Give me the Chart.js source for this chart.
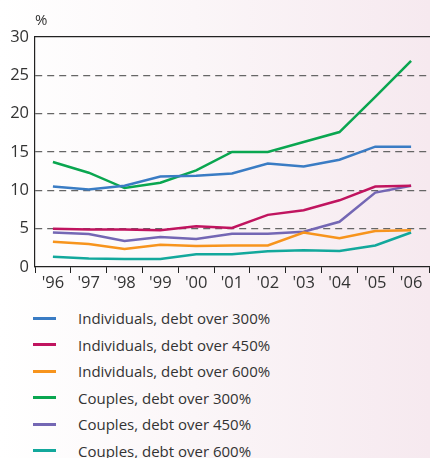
<!DOCTYPE html>
<html>
<head>
<meta charset="utf-8">
<script src="https://cdn.jsdelivr.net/npm/chart.js@4"></script>
<style>
  html, body { margin: 0; padding: 0; }
  body {
    width: 430px; height: 458px; overflow: hidden;
    background: linear-gradient(to right, #ffffff 0%, #fbf6f8 45%, #f6e9ef 100%);
    font-family: "Open Sans", sans-serif;
  }
  #wrap { position: relative; width: 430px; height: 290px; }
  #legend { list-style: none; margin: 0; padding: 15px 0 0 0; }
  #legend li { height: 26.5px; display: flex; align-items: center; font-size: 15px; color: #333; }
  #legend li span.sw { display: inline-block; width: 23px; height: 3px; margin: 0 22px 0 33px; }
</style>
</head>
<body>
<div id="wrap"><canvas id="chart" width="430" height="290"></canvas></div>
<ul id="legend"></ul>
<script>
const years = ["'96", "'97", "'98", "'99", "'00", "'01", "'02", "'03", "'04", "'05", "'06"];
const yTicks = [0, 5, 10, 15, 20, 25, 30];

const indiv300 = [10.5, 10.1, 10.6, 11.8, 11.9, 12.2, 13.5, 13.1, 14.0, 15.7, 15.7];
const indiv450 = [5.0, 4.9, 4.9, 4.8, 5.3, 5.1, 6.8, 7.4, 8.7, 10.5, 10.6];
const indiv600 = [3.3, 3.0, 2.35, 2.9, 2.75, 2.8, 2.8, 4.5, 3.75, 4.7, 4.8];
const couple300 = [13.7, 12.3, 10.3, 11.0, 12.6, 15.0, 15.0, 16.3, 17.6, 22.2, 26.9];
const couple450 = [4.5, 4.3, 3.4, 3.9, 3.65, 4.35, 4.35, 4.6, 5.9, 9.7, 10.6];
const couple600 = [1.35, 1.1, 1.05, 1.05, 1.65, 1.65, 2.05, 2.2, 2.1, 2.8, 4.5];

const series = [
    { label: 'Individuals, debt over 300%', data: indiv300, color: '#3a7cc4' },
    { label: 'Individuals, debt over 450%', data: indiv450, color: '#c0145f' },
    { label: 'Individuals, debt over 600%', data: indiv600, color: '#f7941d' },
    { label: 'Couples, debt over 300%', data: couple300, color: '#0aa650' },
    { label: 'Couples, debt over 450%', data: couple450, color: '#7467b4' },
    { label: 'Couples, debt over 600%', data: couple600, color: '#13a89c' }
];

const tickFont = { family: '"Open Sans", sans-serif', size: 16.5 };

const percentLabel = {
    id: 'percentLabel',
    afterDraw(chart) {
        const ctx = chart.ctx;
        ctx.save();
        ctx.font = '15px "Open Sans", sans-serif';
        ctx.fillStyle = '#333';
        ctx.textAlign = 'left';
        ctx.textBaseline = 'middle';
        ctx.fillText('%', chart.chartArea.left, 21);
        ctx.restore();
    }
};

const ctx = document.getElementById('chart').getContext('2d');
const chart = new Chart(ctx, {
    type: 'line',
    data: {
        labels: years,
        datasets: series.map(s => ({
            label: s.label,
            data: s.data,
            borderColor: s.color,
            backgroundColor: s.color,
            borderWidth: 2.5,
            pointRadius: 0,
            tension: 0,
            xAxisID: 'x',
            yAxisID: 'y'
        }))
    },
    options: {
        responsive: false,
        animation: false,
        layout: { padding: { top: 37, right: 1, left: 0, bottom: 0 } },
        plugins: { legend: { display: false }, tooltip: { enabled: false } },
        scales: {
            x: {
                type: 'category',
                offset: true,
                grid: { offset: true, drawOnChartArea: false, drawTicks: true, tickLength: 6, color: '#222', lineWidth: 1 },
                border: { color: '#222', width: 1.2 },
                ticks: { color: '#333', font: tickFont, padding: 0, maxRotation: 0, autoSkip: false },
                afterFit: s => { s.height = 23; }
            },
            x2: {
                type: 'category',
                position: 'top',
                labels: years,
                grid: { display: false, drawTicks: false },
                border: { color: '#222', width: 1.2 },
                ticks: { display: false },
                afterFit: s => { s.height = 0; }
            },
            y: {
                min: 0, max: 30,
                afterBuildTicks: s => { s.ticks = yTicks.map(v => ({ value: v })); },
                grid: {
                    drawTicks: false,
                    color: c => (c.tick && (c.tick.value === 0 || c.tick.value === 30)) ? 'rgba(0,0,0,0)' : '#666',
                    lineWidth: 1.3
                },
                border: { color: '#222', width: 1.2, dash: [7, 5] },
                ticks: { color: '#333', font: tickFont, padding: 6 },
                afterFit: s => { s.width = 35; }
            }
        }
    },
    plugins: [percentLabel]
});

const legend = document.getElementById('legend');
chart.data.datasets.forEach(ds => {
    const li = document.createElement('li');
    const sw = document.createElement('span');
    sw.className = 'sw';
    sw.style.background = ds.borderColor;
    li.appendChild(sw);
    li.appendChild(document.createTextNode(ds.label));
    legend.appendChild(li);
});
</script>
</body>
</html>
